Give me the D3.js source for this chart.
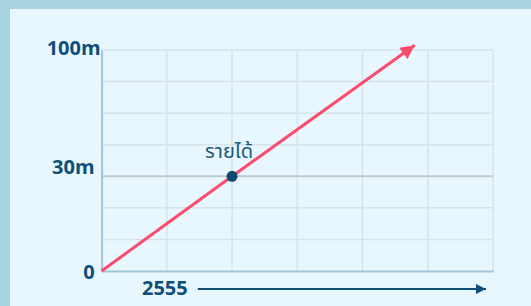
<!DOCTYPE html>
<html>
<head>
<meta charset="utf-8">
<script src="https://cdn.jsdelivr.net/npm/d3@7"></script>
<style>
  body { margin: 0; background: #a7d4e0; }
  svg { display: block; }
</style>
</head>
<body>
<div id="chart"></div>
<script>
// grid is 6 columns by 7 rows, values are in grid units
var xCols = [0, 1, 2, 3, 4, 5, 6];
var yRows = [0, 1, 2, 3, 4, 5, 6, 7];

var yTickValues = [0, 3, 7];
var yTickLabels = ["0", "30m", "100m"];

var xLabel = "2555";
var xLabelAt = 1;

// income line: start, marked point, arrow tip
var lineX = [0, 2, 4.8];
var lineY = [0, 3, 7.15];

var pointLabel = "รายได้";
var pointIndex = 1;

var highlightRow = 3;

const W = 531, H = 306;
const margin = {top: 50, right: 38, bottom: 35, left: 101.6};
const width = W - margin.left - margin.right,
      height = H - margin.top - margin.bottom;

const svg = d3.select("#chart")
    .append("svg")
    .attr("width", W)
    .attr("height", H);

// panel
svg.append("rect")
    .attr("x", 10).attr("y", 9)
    .attr("width", W - 10).attr("height", H - 9)
    .attr("fill", "#e8f7fd");

const defs = svg.append("defs");
defs.append("marker")
    .attr("id", "redHead")
    .attr("viewBox", "0 0 10 10")
    .attr("refX", 10).attr("refY", 5)
    .attr("markerUnits", "userSpaceOnUse")
    .attr("markerWidth", 16).attr("markerHeight", 14)
    .attr("orient", "auto")
    .append("path")
    .attr("d", "M0,0 L10,5 L0,10 Z")
    .attr("fill", "#fb4b6e");

defs.append("marker")
    .attr("id", "blueHead")
    .attr("viewBox", "0 0 10 10")
    .attr("refX", 10).attr("refY", 5)
    .attr("markerUnits", "userSpaceOnUse")
    .attr("markerWidth", 10).attr("markerHeight", 11)
    .attr("orient", "auto")
    .append("path")
    .attr("d", "M0,0 L10,5 L0,10 Z")
    .attr("fill", "#0f4f78");

const g = svg.append("g")
    .attr("transform", `translate(${margin.left},${margin.top})`);

const xScale = d3.scaleLinear()
    .domain([0, 6])
    .range([0, width]);

const yScale = d3.scaleLinear()
    .domain([0, 7])
    .range([height, 0]);

// grid
g.selectAll(".vgrid")
    .data(xCols.slice(1))
    .join("line")
    .attr("class", "vgrid")
    .attr("x1", d => xScale(d)).attr("x2", d => xScale(d))
    .attr("y1", 0).attr("y2", height)
    .attr("stroke", "#d5e4ea")
    .attr("stroke-width", 1.5);

g.selectAll(".hgrid")
    .data(yRows.slice(1).filter(d => d != highlightRow))
    .join("line")
    .attr("class", "hgrid")
    .attr("x1", 0).attr("x2", width)
    .attr("y1", d => yScale(d)).attr("y2", d => yScale(d))
    .attr("stroke", "#d5e4ea")
    .attr("stroke-width", 1.5);

g.append("line")
    .attr("x1", 0).attr("x2", width)
    .attr("y1", yScale(highlightRow)).attr("y2", yScale(highlightRow))
    .attr("stroke", "#c0cbce")
    .attr("stroke-width", 2);

// axes
const yAxis = d3.axisLeft(yScale)
    .tickValues(yTickValues)
    .tickSize(0)
    .tickPadding(6)
    .tickFormat((d, i) => yTickLabels[i]);

const yAxisGroup = g.append("g")
    .attr("class", "y-axis")
    .call(yAxis);
yAxisGroup.select(".domain")
    .attr("stroke", "#9fc6d8")
    .attr("stroke-width", 2);
yAxisGroup.selectAll("text")
    .attr("font-family", "'Open Sans', 'Noto Sans', sans-serif")
    .attr("font-weight", "bold")
    .attr("font-size", 20)
    .attr("fill", "#0f4f78")
    .attr("dy", (d, i) => i == 0 ? "0.36em" : (i == 1 ? "-0.12em" : "0.2em"))
    .attr("x", (d, i) => i == yTickValues.length - 1 ? -1 : -7);

const xAxisGroup = g.append("g")
    .attr("class", "x-axis")
    .attr("transform", `translate(0, ${height})`)
    .call(d3.axisBottom(xScale).tickValues([]).tickSize(0));
xAxisGroup.select(".domain")
    .attr("stroke", "#9fc6d8")
    .attr("stroke-width", 2);

// x label with arrow
g.append("text")
    .attr("x", xScale(xLabelAt) - 2)
    .attr("y", height + 24)
    .attr("text-anchor", "middle")
    .attr("font-family", "'Open Sans', 'Noto Sans', sans-serif")
    .attr("font-weight", "bold")
    .attr("font-size", 20)
    .attr("fill", "#0f4f78")
    .text(xLabel);

g.append("line")
    .attr("x1", xScale(xLabelAt) + 31)
    .attr("x2", width - 7)
    .attr("y1", height + 18).attr("y2", height + 18)
    .attr("stroke", "#0f4f78")
    .attr("stroke-width", 2)
    .attr("marker-end", "url(#blueHead)");

// income line
const pts = lineX.map((x, i) => [x, lineY[i]]);
g.append("path")
    .datum(pts)
    .attr("fill", "none")
    .attr("stroke", "#fb4b6e")
    .attr("stroke-width", 3)
    .attr("marker-end", "url(#redHead)")
    .attr("d", d3.line()
        .x(d => xScale(d[0]))
        .y(d => yScale(d[1])));

g.append("circle")
    .attr("cx", xScale(pts[pointIndex][0]))
    .attr("cy", yScale(pts[pointIndex][1]))
    .attr("r", 5.5)
    .attr("fill", "#0c4b71");

g.append("text")
    .attr("x", xScale(pts[pointIndex][0]) - 3)
    .attr("y", yScale(pts[pointIndex][1]) - 18)
    .attr("text-anchor", "middle")
    .attr("font-family", "'Noto Sans', 'Noto Sans Thai', sans-serif")
    .attr("font-size", 20)
    .attr("fill", "#1a5a80")
    .text(pointLabel);
</script>
</body>
</html>
